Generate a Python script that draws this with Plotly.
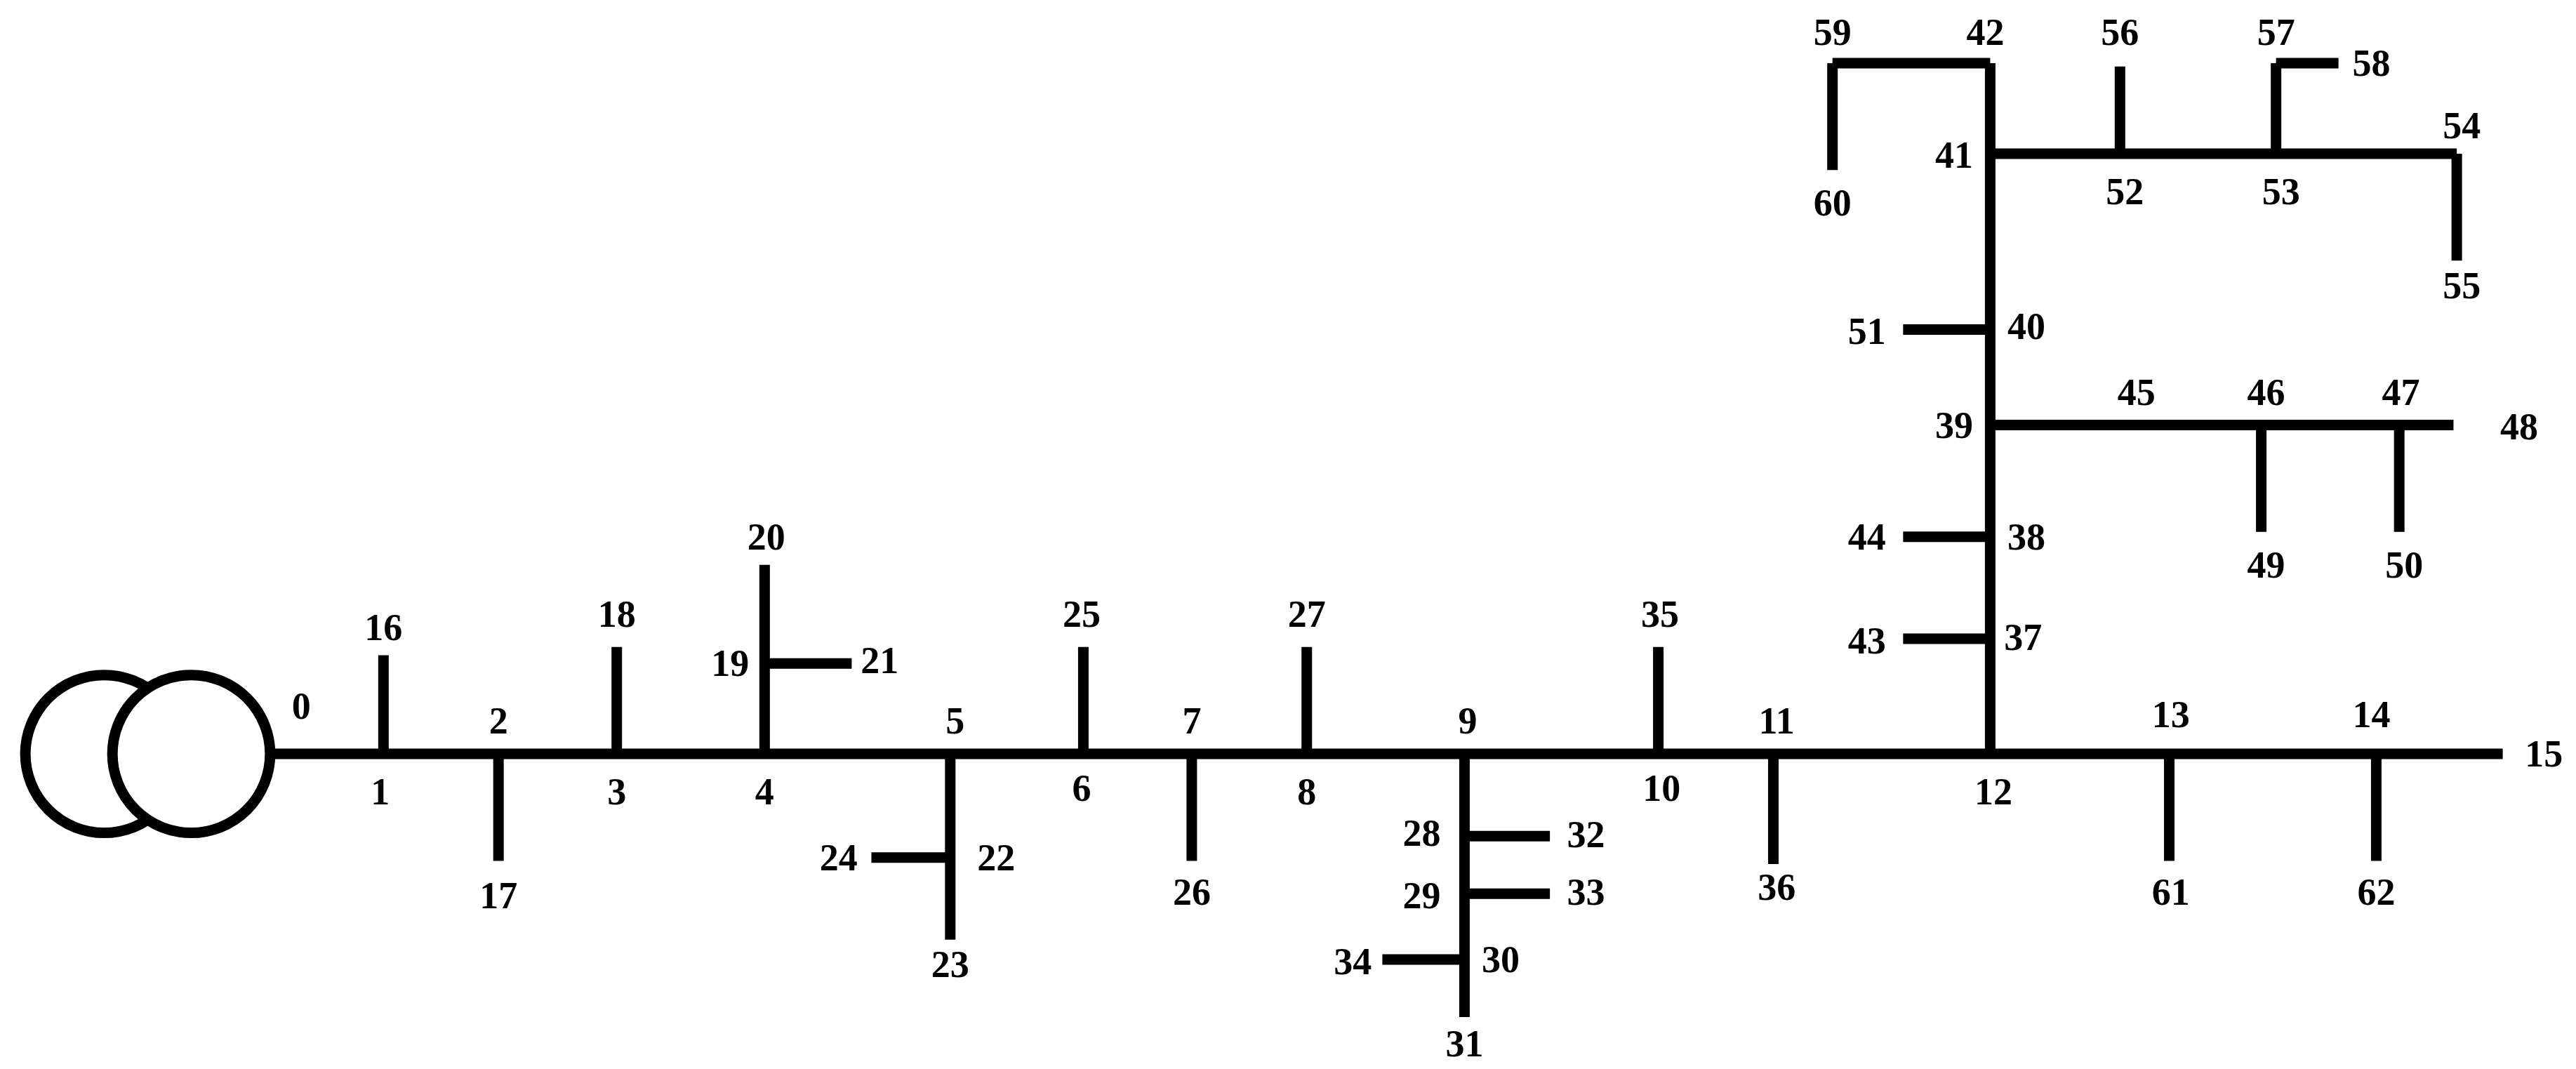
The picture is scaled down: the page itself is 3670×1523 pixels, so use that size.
import plotly.graph_objects as go

# node positions (picture units, y grows downward)
node_x = {0: 160, 1: 230, 2: 300, 3: 372, 4: 462, 5: 575, 6: 656, 7: 722, 8: 792, 9: 888,
          10: 1006, 11: 1076, 12: 1208, 13: 1317, 14: 1443, 15: 1520, 16: 230, 17: 300,
          18: 372, 19: 462, 20: 462, 21: 515, 22: 575, 23: 575, 24: 527, 25: 656, 26: 722,
          27: 792, 28: 888, 29: 888, 30: 888, 31: 888, 32: 940, 33: 940, 34: 838, 35: 1006,
          36: 1076, 37: 1208, 38: 1208, 39: 1208, 40: 1208, 41: 1208, 42: 1208, 43: 1155,
          44: 1155, 45: 1297, 46: 1373, 47: 1457, 48: 1490, 49: 1373, 50: 1457, 51: 1155,
          52: 1287, 53: 1382, 54: 1492, 55: 1492, 56: 1287, 57: 1382, 58: 1420, 59: 1112,
          60: 1112, 61: 1317, 62: 1443}
node_y = {0: 455, 1: 455, 2: 455, 3: 455, 4: 455, 5: 455, 6: 455, 7: 455, 8: 455, 9: 455,
          10: 455, 11: 455, 12: 455, 13: 455, 14: 455, 15: 455, 16: 395, 17: 520, 18: 390,
          19: 400, 20: 340, 21: 400, 22: 518, 23: 568, 24: 518, 25: 390, 26: 520, 27: 390,
          28: 505, 29: 540, 30: 580, 31: 615, 32: 505, 33: 540, 34: 580, 35: 390, 36: 522,
          37: 385, 38: 323, 39: 255, 40: 197, 41: 90, 42: 35, 43: 385, 44: 323, 45: 255,
          46: 255, 47: 255, 48: 255, 49: 320, 50: 320, 51: 197, 52: 90, 53: 90, 54: 90,
          55: 155, 56: 37, 57: 35, 58: 35, 59: 35, 60: 100, 61: 520, 62: 520}

edges = [(0, 15), (1, 16), (2, 17), (3, 18), (4, 20), (19, 21), (5, 23), (22, 24),
         (6, 25), (7, 26), (8, 27), (9, 31), (28, 32), (29, 33), (30, 34), (10, 35),
         (11, 36), (12, 42), (37, 43), (38, 44), (39, 48), (46, 49), (47, 50), (40, 51),
         (41, 54), (54, 55), (52, 56), (53, 57), (57, 58), (42, 59), (59, 60), (13, 61),
         (14, 62)]

label_x = {0: 180, 1: 228, 2: 300, 3: 372, 4: 462, 5: 578, 6: 655, 7: 722, 8: 792, 9: 890,
           10: 1008, 11: 1078, 12: 1210, 13: 1318, 14: 1440, 15: 1545, 16: 230, 17: 300,
           18: 372, 19: 441, 20: 463, 21: 532, 22: 603, 23: 575, 24: 507, 25: 655, 26: 722,
           27: 792, 28: 862, 29: 862, 30: 910, 31: 888, 32: 962, 33: 962, 34: 820, 35: 1007,
           36: 1078, 37: 1228, 38: 1230, 39: 1186, 40: 1230, 41: 1186, 42: 1205, 43: 1133,
           44: 1133, 45: 1297, 46: 1376, 47: 1458, 48: 1530, 49: 1376, 50: 1460, 51: 1133,
           52: 1290, 53: 1385, 54: 1495, 55: 1495, 56: 1287, 57: 1382, 58: 1440, 59: 1112,
           60: 1112, 61: 1318, 62: 1443}
label_y = {0: 428, 1: 480, 2: 437, 3: 480, 4: 480, 5: 437, 6: 478, 7: 437, 8: 480, 9: 437,
           10: 478, 11: 437, 12: 480, 13: 433, 14: 433, 15: 457, 16: 380, 17: 543, 18: 372,
           19: 402, 20: 325, 21: 400, 22: 520, 23: 585, 24: 520, 25: 372, 26: 541, 27: 372,
           28: 505, 29: 543, 30: 582, 31: 633, 32: 506, 33: 541, 34: 583, 35: 372, 36: 538,
           37: 386, 38: 325, 39: 257, 40: 197, 41: 93, 42: 18, 43: 388, 44: 325, 45: 237,
           46: 237, 47: 237, 48: 258, 49: 342, 50: 342, 51: 200, 52: 115, 53: 115, 54: 75,
           55: 172, 56: 18, 57: 18, 58: 37, 59: 18, 60: 122, 61: 541, 62: 541}

# transformer circles: centre x, centre y, radius
circle_cx = [60, 113]
circle_cy = [455, 455]
circle_r = [48, 48]

fig = go.Figure()
ex, ey = [], []
for a, b in edges:
    ex += [node_x[a], node_x[b], None]
    ey += [node_y[a], node_y[b], None]
fig.add_trace(go.Scatter(x=ex, y=ey, mode='lines', line=dict(color='black', width=15),
                         hoverinfo='skip'))

ids = list(label_x)
fig.add_trace(go.Scatter(x=[label_x[i] for i in ids], y=[label_y[i] for i in ids],
                         mode='text', text=[str(i) for i in ids],
                         textfont=dict(family='Liberation Serif', size=54, color='black',
                                       weight='bold'),
                         hoverinfo='skip'))

# right circle drawn over the left one, white filled so it hides the overlap
for cx, cy, r in zip(circle_cx, circle_cy, circle_r):
    fig.add_shape(type='circle', x0=cx - r, x1=cx + r, y0=cy - r, y1=cy + r,
                  line=dict(color='black', width=15), fillcolor='white', layer='above')

fig.update_layout(width=3670, height=1523, margin=dict(l=0, r=0, t=0, b=0),
                  showlegend=False, plot_bgcolor='white', paper_bgcolor='white',
                  xaxis=dict(range=[0, 1568], visible=False),
                  yaxis=dict(range=[650, 0], visible=False))

fig.write_html("out.html")
